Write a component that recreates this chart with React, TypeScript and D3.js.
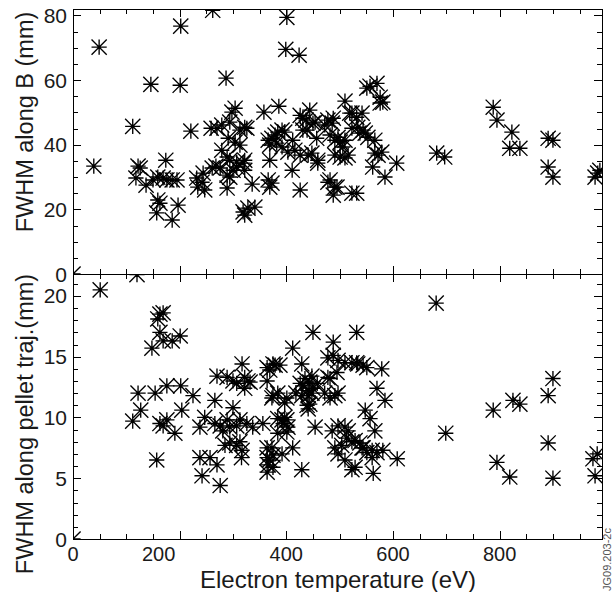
import React from "react";
import * as d3 from "d3";

// ---------- data ----------
const topTemp = [0, 39, 49, 112, 146, 201, 202, 221, 262, 287, 401, 399, 424, 358, 386, 122, 126, 118, 137, 150, 159, 169, 176, 186, 195, 174, 159, 163, 157, 186, 197, 232, 242, 234, 247, 244, 261, 268, 289, 259, 270, 279, 294, 313, 322, 291, 304, 313, 279, 289, 294, 307, 319, 276, 300, 307, 289, 294, 304, 298, 319, 322, 328, 341, 336, 322, 322, 326, 366, 373, 379, 384, 392, 397, 369, 382, 392, 412, 439, 457, 472, 486, 482, 491, 501, 510, 523, 534, 538, 544, 369, 403, 416, 426, 441, 448, 459, 491, 501, 510, 516, 411, 366, 373, 369, 426, 482, 491, 488, 523, 426, 431, 444, 454, 478, 488, 523, 532, 510, 551, 557, 570, 576, 581, 576, 542, 548, 553, 566, 566, 572, 579, 562, 585, 607, 682, 697, 788, 795, 823, 819, 838, 891, 900, 891, 900, 979, 984, 988, 431, 437, 450, 497, 506, 459, 478, 495, 532, 519];
const topFwhmB = [0, 33.4, 70.2, 45.7, 58.7, 58.4, 76.7, 44.2, 81.6, 60.6, 79.4, 69.5, 67.7, 50.1, 51.9, 33.4, 32.8, 29.7, 27.5, 29.1, 30.0, 29.7, 29.1, 29.1, 29.1, 35.2, 22.9, 21.9, 18.9, 16.7, 21.3, 29.7, 28.4, 26.9, 26.0, 31.2, 32.8, 33.4, 26.6, 45.1, 45.1, 46.1, 47.0, 44.5, 45.4, 42.0, 40.8, 39.9, 38.3, 36.2, 35.2, 34.6, 34.3, 32.8, 32.1, 33.1, 30.6, 30.0, 51.3, 50.1, 19.2, 18.2, 20.4, 20.7, 27.8, 35.2, 32.1, 45.1, 41.4, 42.0, 43.0, 43.9, 44.5, 43.9, 39.9, 40.5, 39.3, 41.4, 44.5, 42.0, 46.1, 46.7, 43.0, 41.4, 40.8, 41.4, 45.1, 45.4, 43.6, 44.5, 35.2, 37.7, 38.3, 36.8, 36.8, 37.4, 34.3, 36.8, 36.2, 35.9, 36.8, 32.1, 29.1, 28.1, 26.9, 26.0, 29.1, 26.9, 24.4, 25.0, 49.1, 48.2, 50.7, 47.0, 47.6, 48.2, 49.8, 48.5, 53.5, 57.5, 58.1, 59.0, 54.7, 53.2, 52.9, 49.8, 43.6, 42.3, 41.4, 37.4, 36.8, 37.7, 33.1, 30.0, 34.3, 37.4, 36.2, 51.6, 47.6, 43.9, 38.9, 38.9, 42.0, 41.4, 33.1, 30.0, 30.0, 31.2, 32.1, 44.5, 47.6, 46.7, 42.3, 39.3, 35.2, 28.4, 26.9, 25.0, 49.8];

const botTemp = [0, 51, 120, 163, 169, 159, 163, 169, 201, 148, 122, 154, 176, 202, 225, 112, 127, 163, 169, 176, 191, 204, 157, 238, 247, 266, 270, 238, 242, 257, 270, 276, 266, 276, 281, 289, 294, 289, 300, 307, 317, 300, 307, 313, 294, 307, 313, 317, 322, 332, 326, 337, 356, 364, 369, 375, 364, 364, 373, 364, 369, 375, 366, 364, 375, 384, 392, 397, 401, 394, 403, 384, 401, 412, 412, 429, 429, 431, 441, 450, 444, 454, 450, 532, 488, 379, 388, 478, 488, 497, 510, 523, 532, 328, 448, 435, 482, 495, 373, 384, 397, 472, 482, 491, 497, 439, 441, 401, 486, 497, 510, 516, 392, 491, 504, 513, 523, 529, 538, 542, 497, 510, 375, 523, 529, 681, 551, 579, 534, 570, 585, 548, 557, 566, 544, 551, 561, 570, 581, 561, 608, 563, 699, 788, 825, 838, 891, 900, 795, 819, 891, 900, 975, 983, 979, 544, 478, 285, 316, 186, 322, 418, 429, 441, 426, 444, 448, 458];
const botFwhmTraj = [0, 20.5, 21.75, 18.5, 18.6, 18.1, 17.0, 16.3, 16.7, 15.7, 12.0, 12.0, 12.6, 12.6, 11.8, 9.7, 10.6, 9.5, 9.3, 9.8, 8.7, 10.6, 6.5, 9.2, 10.0, 11.4, 13.4, 6.7, 5.2, 6.7, 6.1, 4.4, 9.5, 9.3, 8.9, 9.8, 9.2, 13.3, 13.0, 12.8, 14.4, 10.8, 9.3, 9.8, 7.9, 7.7, 8.0, 7.3, 12.4, 12.9, 9.5, 9.2, 9.5, 14.1, 13.9, 14.4, 13.0, 7.5, 7.5, 6.7, 6.5, 6.9, 6.1, 5.5, 11.8, 9.9, 9.8, 10.0, 9.8, 9.5, 9.2, 8.7, 11.6, 7.5, 15.7, 14.4, 5.7, 12.6, 12.2, 12.4, 11.1, 9.2, 17.0, 17.0, 16.2, 14.3, 14.3, 14.9, 15.1, 14.7, 14.5, 14.5, 14.5, 13.0, 13.4, 13.2, 13.2, 13.7, 11.6, 12.0, 11.2, 12.0, 11.6, 11.8, 12.0, 11.0, 10.7, 8.8, 8.9, 9.3, 9.2, 8.9, 7.0, 7.5, 7.7, 8.3, 8.0, 8.1, 7.9, 7.5, 7.0, 6.5, 5.9, 5.7, 5.9, 19.4, 14.1, 14.0, 14.4, 12.4, 11.4, 10.6, 9.9, 8.9, 7.5, 7.1, 7.3, 7.1, 7.3, 6.7, 6.6, 5.4, 8.7, 10.6, 11.4, 11.1, 11.8, 13.2, 6.3, 5.1, 7.9, 5.0, 6.6, 7.0, 5.2, 14.3, 13.3, 7.7, 6.7, 16.3, 13.3, 12.0, 11.8, 11.8, 12.8, 12.9, 12.0, 12.8];

const xDomain = [0, 992];
const xMajorTicks = [0, 200, 400, 600, 800];
const xMinorStep = 50;
const topDomain = [0, 82];
const topMajorTicks = [0, 20, 40, 60, 80];
const topMinorStep = 5;
const botDomain = [0, 21.8];
const botMajorTicks = [0, 5, 10, 15, 20];
const botMinorStep = 1;
const xTitle = "Electron temperature (eV)";
const topTitle = "FWHM along B (mm)";
const botTitle = "FWHM along pellet traj.(mm)";
const figId = "JG09.203-2c";

// ---------- layout ----------
const W = 612, H = 592;
const L = 73, R = 602, T = 9, M = 274, B = 539;
const FONT = "'Liberation Sans', Arial, Helvetica, sans-serif";
const MAJ = 8, MIN = 5;
const xLabelNudge: Record<number, number> = { 200: -21 };

const x = d3.scaleLinear().domain(xDomain).range([L, R]);

function minorTicks(domain: number[], step: number) {
  const out: number[] = [];
  for (let v = 0; v <= domain[1] + 1e-9; v += step) out.push(+v.toFixed(6));
  return out;
}

function Star({ cx, cy }: { cx: number; cy: number }) {
  const s = 7.6;
  const d = `M${-s},0H${s}M0,${-s}V${s}M${-s},${-s}L${s},${s}M${-s},${s}L${s},${-s}`;
  return <path d={d} transform={`translate(${cx},${cy})`} />;
}

function Panel(props: {
  id: string;
  top: number;
  bottom: number;
  domain: number[];
  majors: number[];
  minorStep: number;
  xs: number[];
  ys: number[];
  title: string;
  titleY: number;
}) {
  const { id, top, bottom, domain, majors, minorStep, xs, ys, title, titleY } = props;
  const y = d3.scaleLinear().domain(domain).range([bottom, top]);
  const yMin = minorTicks(domain, minorStep);
  const xMin = minorTicks(xDomain, xMinorStep);
  const isMajX = (v: number) => xMajorTicks.includes(v);
  const isMajY = (v: number) => majors.includes(v);
  return (
    <g>
      <defs>
        <clipPath id={id}>
          <rect x={L} y={top} width={R - L} height={bottom - top} />
        </clipPath>
      </defs>
      <g clipPath={`url(#${id})`} stroke="#000" strokeWidth={1.35} fill="none">
        {xs.map((v, i) => (
          <Star key={i} cx={x(v)} cy={y(ys[i])} />
        ))}
      </g>
      <g stroke="#000" strokeWidth={1} fill="none" shapeRendering="crispEdges">
        <rect x={L} y={top} width={R - L} height={bottom - top} />
        {yMin.map((v) => {
          const len = isMajY(v) ? MAJ : MIN;
          const yy = Math.round(y(v)) + 0.5;
          return (
            <g key={"y" + v}>
              <line x1={L} x2={L + len} y1={yy} y2={yy} />
              <line x1={R - len} x2={R} y1={yy} y2={yy} />
            </g>
          );
        })}
        {xMin.filter((v) => v < xDomain[1]).map((v) => {
          const len = isMajX(v) ? MAJ : MIN;
          const xx = Math.round(x(v)) + 0.5;
          return (
            <g key={"x" + v}>
              <line x1={xx} x2={xx} y1={top} y2={top + len} />
              <line x1={xx} x2={xx} y1={bottom - len} y2={bottom} />
            </g>
          );
        })}
      </g>
      <g fontFamily={FONT} fontSize={21} fill="#1a1a1a" textAnchor="end">
        {majors.map((v) => (
          <text key={v} x={L - 6} y={y(v)} dy="0.36em">
            {v}
          </text>
        ))}
      </g>
      <text
        fontFamily={FONT}
        fontSize={23.5}
        fill="#1a1a1a"
        textAnchor="middle"
        transform={`translate(33,${titleY}) rotate(-90)`}
      >
        {title}
      </text>
    </g>
  );
}

export default function App() {
  return (
    <svg
      width={W}
      height={H}
      viewBox={`0 0 ${W} ${H}`}
      style={{ position: "absolute", left: 0, top: 0, background: "#fff" }}
    >
      <rect width={W} height={H} fill="#fff" />
      <Panel id="clipTop" top={T} bottom={M} domain={topDomain} majors={topMajorTicks} minorStep={topMinorStep} xs={topTemp} ys={topFwhmB} title={topTitle} titleY={122} />
      <Panel id="clipBot" top={M} bottom={B} domain={botDomain} majors={botMajorTicks} minorStep={botMinorStep} xs={botTemp} ys={botFwhmTraj} title={botTitle} titleY={424} />
      <g fontFamily={FONT} fontSize={20} fill="#1a1a1a" textAnchor="middle">
        {xMajorTicks.map((v) => (
          <text key={v} x={x(v) + (xLabelNudge[v] || 0)} y={560.5}>
            {v}
          </text>
        ))}
      </g>
      <text x={338} y={587.5} fontFamily={FONT} fontSize={24} fill="#1a1a1a" textAnchor="middle">
        {xTitle}
      </text>
      <text
        fontFamily={FONT}
        fontSize={11}
        fill="#555"
        transform={`translate(611,591) rotate(-90)`}
      >
        {figId}
      </text>
    </svg>
  );
}
